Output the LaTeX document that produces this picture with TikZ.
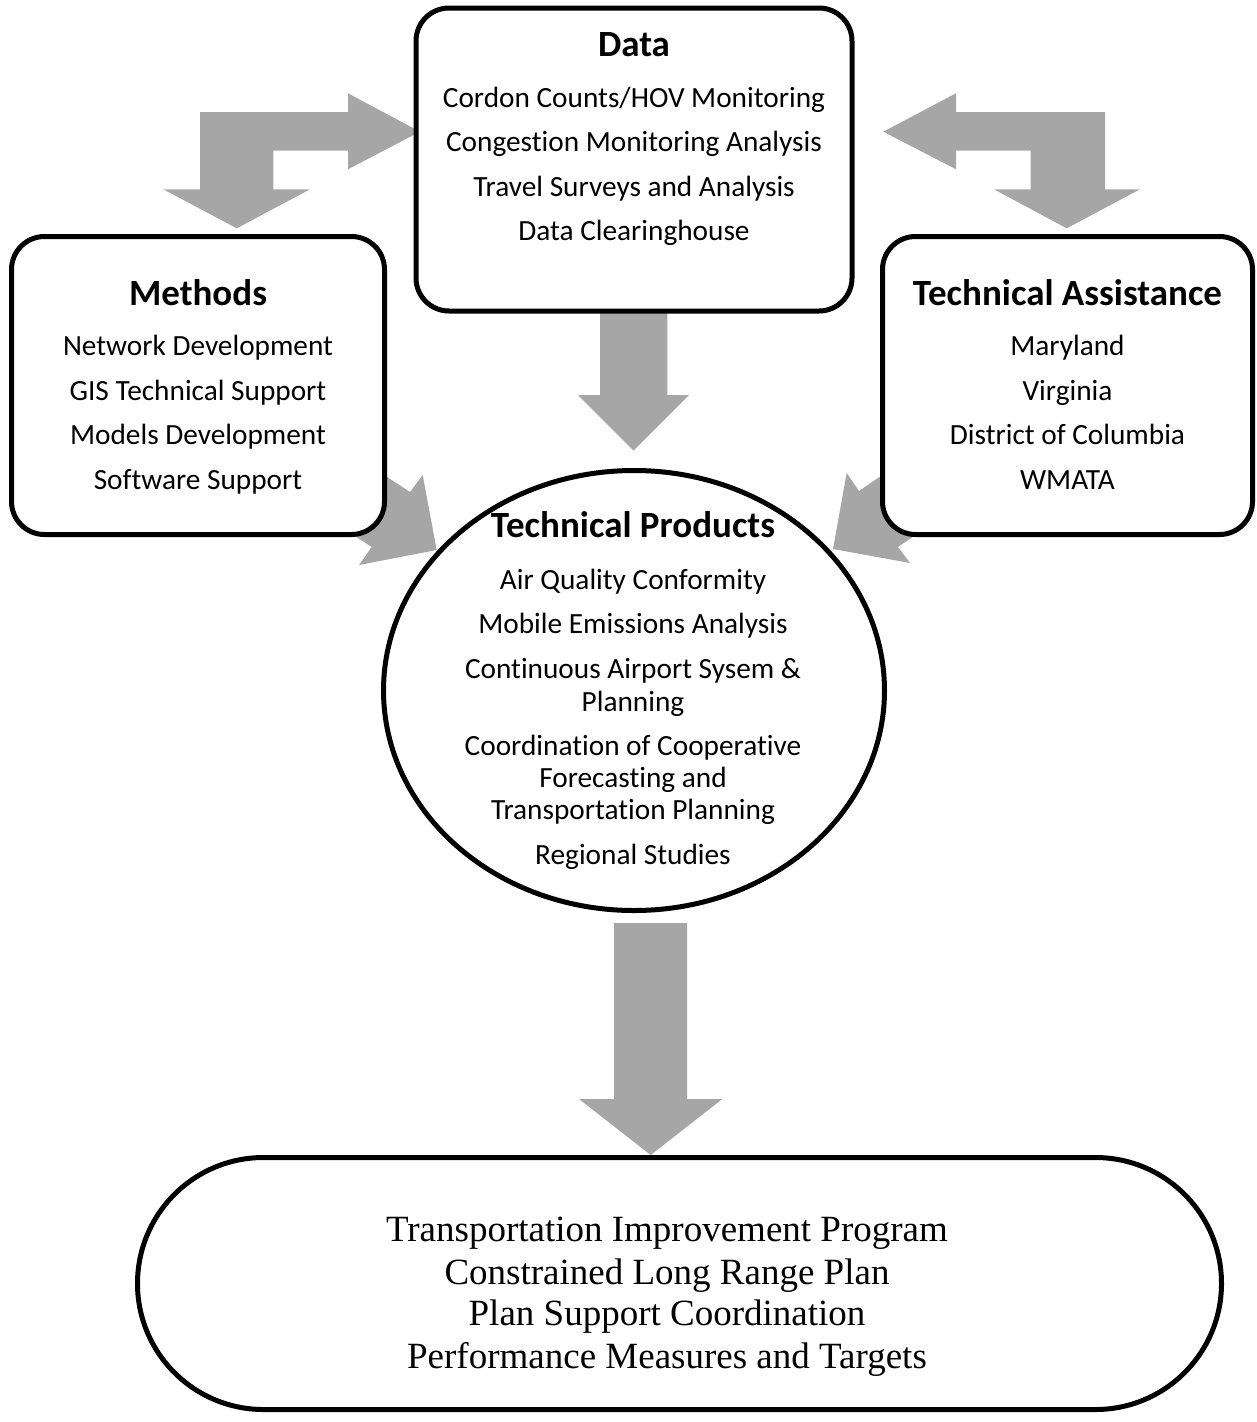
\documentclass[tikz,border=0pt]{standalone}
\usepackage{fontspec}
\setmainfont{Carlito}[Ligatures=NoCommon]
\newfontfamily\tnr{Liberation Serif}
\usetikzlibrary{shapes.geometric,shapes.misc}
\definecolor{arrowgray}{HTML}{A6A6A6}
\tikzset{
  blk/.style={draw=black, line width=5pt, fill=white, inner sep=0pt, outer sep=0pt},
  rbox/.style={blk, rectangle, rounded corners=33pt},
  ttl/.style={anchor=base, inner sep=0pt, font=\fontsize{37}{42}\selectfont\bfseries},
  itm/.style={anchor=base, inner sep=0pt, font=\fontsize{29.3}{34}\selectfont},
  bot/.style={anchor=base, inner sep=0pt, font=\fontsize{37}{42}\selectfont\tnr},
  garrow/.style={fill=arrowgray, draw=none}
}
\begin{document}
\begin{tikzpicture}[x=1pt,y=-1pt]
\useasboundingbox (0,0) rectangle (1257,1422);
% ---- gray block arrows (behind the boxes)
\fill[garrow] (236.7,228.3) -- (163.3,189.3) -- (200,189.3) -- (200,112) -- (348,112) -- (348,93.3)
  -- (420,131.7) -- (348,169.3) -- (348,150.7) -- (273.3,150.7) -- (273.3,189.3) -- (310,189.3) -- cycle;
\fill[garrow] (883.3,131.7) -- (956,93.3) -- (956,112) -- (1105,112) -- (1105,189.3) -- (1140,189.3)
  -- (1066.7,228.3) -- (994,189.3) -- (1030.7,189.3) -- (1030.7,150.7) -- (956,150.7) -- (956,169.3) -- cycle;
\fill[garrow] (600,300) -- (667.3,300) -- (667.3,395) -- (689,395) -- (633.5,450.7) -- (578,395) -- (600,395) -- cycle;
\fill[garrow] (614,923) -- (687,923) -- (687,1099) -- (722.3,1099) -- (650.7,1155) -- (579,1099) -- (614,1099) -- cycle;
\fill[garrow] (326.3,437.3) -- (410,492) -- (422.7,475) -- (436.7,550) -- (359,565) -- (371.7,547) -- (288,492.3) -- cycle;
\fill[garrow] (941.5,434.5) -- (859,491) -- (846.7,473) -- (833,549) -- (910,563) -- (898,547) -- (980.5,490.5) -- cycle;
% ---- boxes
\node[rbox, minimum width=436pt, minimum height=303pt] (data) at (634,159.5) {};
\node[rbox, minimum width=373pt, minimum height=298pt] (methods) at (198,385.5) {};
\node[rbox, minimum width=370pt, minimum height=298pt] (tassist) at (1067.5,385.5) {};
\node[blk, ellipse, minimum width=501pt, minimum height=440pt] (prod) at (634,690.5) {};
\node[blk, rounded rectangle, minimum width=1084pt, minimum height=252pt] (plan) at (679.5,1283.5) {};
% ---- Data texts
\node[ttl] (dT) at (634,56) {Data};
\node[itm] (d1) at (634,107) {Cordon Counts/HOV Monitoring};
\node[itm] (d2) at (634,151.5) {Congestion Monitoring Analysis};
\node[itm] (d3) at (634,196) {Travel Surveys and Analysis};
\node[itm] (d4) at (634,240) {Data Clearinghouse};
% ---- Methods texts
\node[ttl] (mT) at (198,305) {Methods};
\node[itm] (m1) at (198,355) {Network Development};
\node[itm] (m2) at (198,400) {GIS Technical Support};
\node[itm] (m3) at (198,444.5) {Models Development};
\node[itm] (m4) at (198,489) {Software Support};
% ---- Technical Assistance texts
\node[ttl] (aT) at (1067.5,305) {Technical Assistance};
\node[itm] (a1) at (1067.5,355) {Maryland};
\node[itm] (a2) at (1067.5,400) {Virginia};
\node[itm] (a3) at (1067.5,444.5) {District of Columbia};
\node[itm] (a4) at (1067.5,489) {WMATA};
% ---- Technical Products texts
\node[ttl] (pT) at (633,537.5) {Technical Products};
\node[itm] (p1) at (633,589.5) {Air Quality Conformity};
\node[itm] (p2) at (633,633.5) {Mobile Emissions Analysis};
\node[itm] (p3a) at (633,678.5) {Continuous Airport Sysem \&};
\node[itm] (p3b) at (633,711) {Planning};
\node[itm] (p4a) at (633,755) {Coordination of Cooperative};
\node[itm] (p4b) at (633,787) {Forecasting and};
\node[itm] (p4c) at (633,819) {Transportation Planning};
\node[itm] (p5) at (633,864) {Regional Studies};
% ---- bottom texts
\node[bot] (b1) at (667,1241) {Transportation Improvement Program};
\node[bot] (b2) at (667,1284) {Constrained Long Range Plan};
\node[bot] (b3) at (667,1325) {Plan Support Coordination};
\node[bot] (b4) at (667,1368) {Performance Measures and Targets};
\end{tikzpicture}
\end{document}
